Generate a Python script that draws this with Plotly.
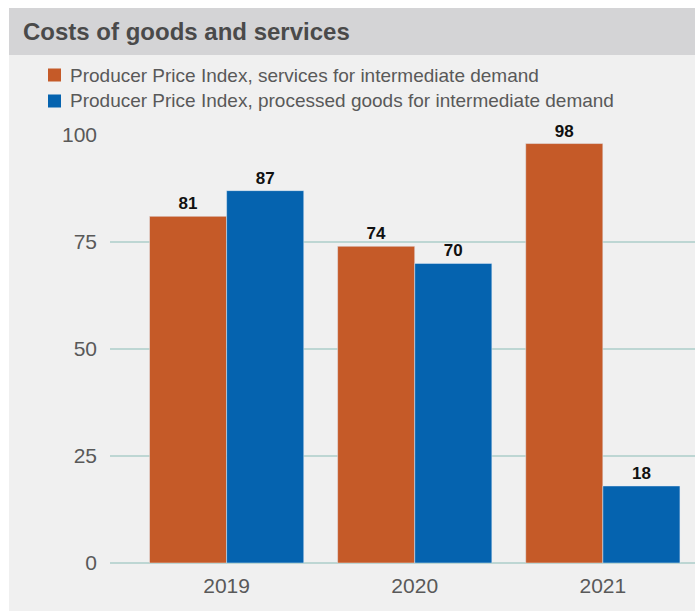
import plotly.graph_objects as go

years = ["2019", "2020", "2021"]
services = [81, 74, 98]
goods = [87, 70, 18]
series_names = [
    "Producer Price Index, services for intermediate demand",
    "Producer Price Index, processed goods for intermediate demand",
]
series_colors = ["#C55A28", "#0563AF"]
y_ticks = [0, 25, 50, 75, 100]

W, H = 695, 611
L, R, T, B = 110, 0, 135, 48
PW, PH = W - L - R, H - T - B

def px_x(px):
    return (px - L) / PW

def px_y(py):
    return (H - B - py) / PH

label_font = dict(family="Liberation Sans Narrow, Arial Narrow, sans-serif", size=17, color="#111111")

fig = go.Figure()
for name, vals, col in zip(series_names, [services, goods], series_colors):
    fig.add_trace(go.Bar(
        x=years, y=vals, name=name, marker_color=col,
        text=[f"<b>{v}</b>" for v in vals], textposition="outside",
        textfont=label_font, cliponaxis=False, constraintext="none",
    ))

# panel backgrounds: title bar and body
fig.add_shape(type="rect", xref="paper", yref="paper", layer="below",
              x0=px_x(9), x1=px_x(W + 5), y0=px_y(H + 5), y1=px_y(55),
              fillcolor="#F0F0F0", line_width=0)
fig.add_shape(type="rect", xref="paper", yref="paper", layer="below",
              x0=px_x(9), x1=px_x(W + 5), y0=px_y(55), y1=px_y(8),
              fillcolor="#D4D4D6", line_width=0)

fig.add_annotation(
    text="<b>Costs of goods and services</b>", xref="paper", yref="paper",
    x=px_x(21), y=px_y(32), xanchor="left", yanchor="middle", showarrow=False,
    font=dict(family="Liberation Sans Narrow, Arial Narrow, sans-serif", size=24, color="#4A4A4A"),
)

# legend: colour squares and series names
for i, (name, col) in enumerate(zip(series_names, series_colors)):
    cy = 75 + i * 26
    fig.add_shape(type="rect", xref="paper", yref="paper",
                  x0=px_x(48), x1=px_x(61), y0=px_y(cy + 6.5), y1=px_y(cy - 6.5),
                  fillcolor=col, line_width=0)
    fig.add_annotation(
        text=name, xref="paper", yref="paper", x=px_x(68), y=px_y(cy),
        xanchor="left", yanchor="middle", showarrow=False,
        font=dict(family="Liberation Sans, Arial, sans-serif", size=19, color="#595959"),
    )

fig.update_layout(
    width=W, height=H,
    margin=dict(l=L, r=R, t=T, b=B, autoexpand=False),
    paper_bgcolor="white", plot_bgcolor="rgba(0,0,0,0)",
    barmode="group", bargap=0.18, bargroupgap=0,
    font=dict(family="Liberation Sans, Arial, sans-serif", color="#595959"),
    showlegend=False,
    xaxis=dict(
        range=[-0.62, 2.49], showgrid=False, showline=False, ticks="",
        tickfont=dict(size=21, color="#595959"), ticklabelstandoff=8,
        automargin=False,
    ),
    yaxis=dict(
        range=[0, 100], tickvals=y_ticks, showgrid=True, gridcolor="#BDD6D3",
        gridwidth=1.5, zeroline=True, zerolinecolor="#BDD6D3", zerolinewidth=1.5,
        showline=False, ticks="", tickfont=dict(size=21, color="#595959"),
        ticklabelstandoff=12, automargin=False,
    ),
)

fig.write_html("out.html")
